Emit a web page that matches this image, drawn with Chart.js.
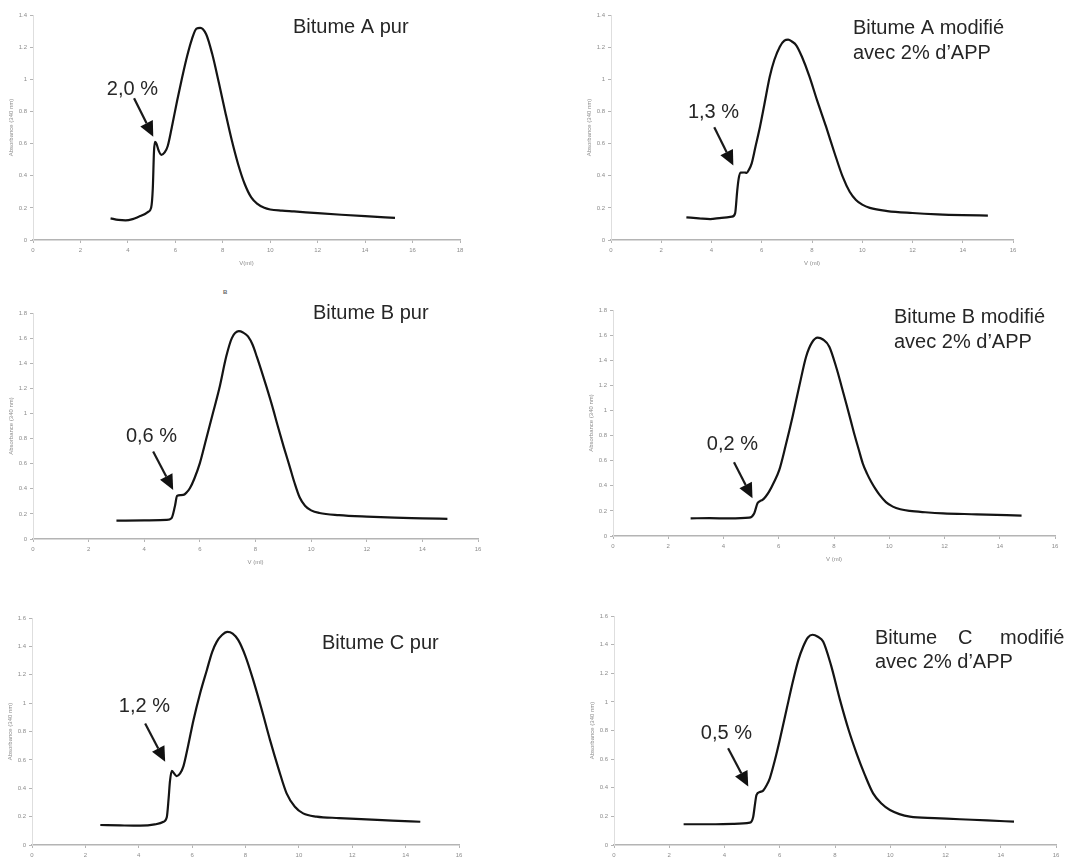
<!DOCTYPE html>
<html lang="fr">
<head>
<meta charset="utf-8">
<title>Chromatogrammes GPC des bitumes</title>
<script src="https://cdn.jsdelivr.net/npm/chart.js@4.4.1/dist/chart.umd.min.js"></script>
<style>
  html, body { margin: 0; padding: 0; background: #fff; overflow: hidden; }
  body { width: 1084px; height: 857px; position: relative; }
  canvas { position: absolute; }
  .stray { position: absolute; left: 223px; top: 289px; font: bold 6px "Liberation Sans", Arial, sans-serif; color: #6a6a6a; }
</style>
</head>
<body>
<div class="stray">B</div>
<script>
// Absorbance at 340 nm against elution volume V (ml), one pair of arrays per bitumen

const aPurV   = [3.27, 3.6, 3.9, 4.2, 4.46, 4.7, 4.86, 4.98, 5.05, 5.1, 5.14, 5.2, 5.3, 5.41, 5.55, 5.68, 5.85, 6.08, 6.3, 6.49, 6.7, 6.89, 7.05, 7.3, 7.55, 7.84, 8.1, 8.38, 8.65, 8.92, 9.2, 9.46, 9.75, 10.0, 10.5, 11.0, 12.0, 13.0, 14.0, 15.26];
const aPurAbs = [0.135, 0.125, 0.122, 0.13, 0.145, 0.16, 0.176, 0.2, 0.32, 0.55, 0.61, 0.6, 0.555, 0.53, 0.545, 0.585, 0.7, 0.87, 1.02, 1.14, 1.25, 1.315, 1.32, 1.28, 1.16, 0.975, 0.8, 0.62, 0.47, 0.35, 0.265, 0.225, 0.2, 0.19, 0.183, 0.178, 0.167, 0.157, 0.148, 0.138];

const aModV   = [3.0, 3.5, 3.95, 4.4, 4.81, 4.94, 5.02, 5.08, 5.16, 5.3, 5.4, 5.5, 5.6, 5.75, 5.93, 6.1, 6.32, 6.5, 6.72, 6.9, 7.05, 7.2, 7.38, 7.6, 7.9, 8.2, 8.56, 8.9, 9.22, 9.5, 9.75, 10.0, 10.3, 11.0, 12.0, 13.0, 14.0, 15.0];
const aModAbs = [0.141, 0.135, 0.13, 0.138, 0.145, 0.166, 0.3, 0.38, 0.419, 0.42, 0.418, 0.44, 0.477, 0.58, 0.705, 0.84, 1.017, 1.12, 1.203, 1.24, 1.247, 1.235, 1.21, 1.14, 1.017, 0.87, 0.705, 0.54, 0.394, 0.3, 0.249, 0.22, 0.2, 0.18, 0.168, 0.16, 0.155, 0.152];

const bPurV   = [3.0, 4.0, 4.8, 4.98, 5.1, 5.18, 5.3, 5.4, 5.52, 5.64, 5.8, 6.0, 6.22, 6.47, 6.7, 6.95, 7.15, 7.4, 7.55, 7.73, 7.9, 8.05, 8.22, 8.39, 8.6, 8.8, 9.02, 9.23, 9.4, 9.59, 9.78, 10.0, 10.3, 11.0, 12.0, 13.0, 14.0, 14.9];
const bPurAbs = [0.146, 0.148, 0.152, 0.165, 0.258, 0.343, 0.35, 0.351, 0.37, 0.404, 0.48, 0.604, 0.79, 1.003, 1.2, 1.455, 1.6, 1.655, 1.645, 1.614, 1.545, 1.45, 1.335, 1.215, 1.06, 0.9, 0.73, 0.577, 0.45, 0.33, 0.265, 0.228, 0.207, 0.19, 0.178, 0.17, 0.165, 0.16];

const bModV   = [2.81, 3.5, 4.2, 4.93, 5.11, 5.23, 5.32, 5.41, 5.53, 5.65, 5.83, 6.02, 6.25, 6.5, 6.75, 6.99, 7.2, 7.41, 7.6, 7.83, 8.1, 8.27, 8.44, 8.6, 8.75, 8.9, 9.04, 9.2, 9.35, 9.5, 9.65, 9.88, 10.13, 10.4, 10.74, 11.3, 11.95, 13.16, 14.79];
const bModAbs = [0.141, 0.142, 0.14, 0.146, 0.18, 0.26, 0.278, 0.287, 0.315, 0.353, 0.43, 0.526, 0.72, 0.95, 1.2, 1.428, 1.54, 1.58, 1.565, 1.508, 1.33, 1.195, 1.057, 0.925, 0.8, 0.685, 0.579, 0.495, 0.43, 0.375, 0.327, 0.27, 0.234, 0.213, 0.2, 0.189, 0.18, 0.173, 0.162];

const cPurV   = [2.56, 3.3, 4.05, 4.6, 4.93, 5.05, 5.12, 5.17, 5.24, 5.32, 5.42, 5.55, 5.67, 5.85, 6.05, 6.3, 6.55, 6.75, 6.92, 7.12, 7.32, 7.52, 7.73, 8.0, 8.29, 8.6, 8.92, 9.25, 9.54, 9.85, 10.16, 10.66, 11.5, 12.53, 13.5, 14.55];
const cPurAbs = [0.141, 0.138, 0.136, 0.145, 0.164, 0.195, 0.33, 0.45, 0.523, 0.505, 0.486, 0.505, 0.552, 0.7, 0.88, 1.07, 1.232, 1.36, 1.432, 1.48, 1.502, 1.49, 1.444, 1.33, 1.162, 0.96, 0.739, 0.53, 0.364, 0.27, 0.223, 0.2, 0.19, 0.181, 0.172, 0.164];

const cModV   = [2.52, 3.5, 4.3, 4.92, 5.04, 5.1, 5.16, 5.28, 5.4, 5.52, 5.64, 5.82, 6.0, 6.25, 6.49, 6.67, 6.85, 7.02, 7.19, 7.38, 7.57, 7.85, 8.18, 8.5, 8.78, 9.08, 9.38, 9.68, 9.99, 10.71, 11.6, 12.52, 13.5, 14.48];
const cModAbs = [0.145, 0.145, 0.148, 0.156, 0.198, 0.28, 0.35, 0.37, 0.38, 0.415, 0.466, 0.59, 0.734, 0.95, 1.154, 1.29, 1.387, 1.45, 1.469, 1.455, 1.422, 1.26, 1.014, 0.8, 0.641, 0.49, 0.361, 0.29, 0.245, 0.198, 0.188, 0.18, 0.172, 0.163];

// Box around each plot area and the axis extents
const PAD_TOP = 30;
const PAD_RIGHT = 30;
const Y_AXIS_W = 33;
const X_AXIS_H = 30;

const axisColor = '#b4b4b4';
const tickColor = '#8c8c8c';
const tickFont = {family: '"Liberation Sans", Arial, sans-serif', size: 6};
const labelFont = '20px "Liberation Sans", Arial, sans-serif';

const panels = [
    {
        volumes: aPurV, absorbances: aPurAbs, xMax: 18, yMax: 1.4, xTitle: 'V(ml)',
        area: {left: 33, top: 15, right: 460, bottom: 240},
        titles: [{text: 'Bitume A pur', dx: 260, dy: 12}],
        note: {text: '2,0 %', at: [4.19, 0.938], from: [4.26, 0.882], to: [5.07, 0.643]}
    },
    {
        volumes: aModV, absorbances: aModAbs, xMax: 16, yMax: 1.4, xTitle: 'V (ml)',
        area: {left: 611, top: 15, right: 1013, bottom: 240},
        titles: [{text: 'Bitume A modifié', dx: 242, dy: 13}, {text: 'avec 2% d\u2019APP', dx: 242, dy: 38}],
        note: {text: '1,3 %', at: [4.08, 0.793], from: [4.11, 0.701], to: [4.87, 0.463]}
    },
    {
        volumes: bPurV, absorbances: bPurAbs, xMax: 16, yMax: 1.8, xTitle: 'V (ml)',
        area: {left: 33, top: 313, right: 478, bottom: 539},
        titles: [{text: 'Bitume B pur', dx: 280, dy: 0}],
        note: {text: '0,6 %', at: [4.26, 0.816], from: [4.32, 0.697], to: [5.04, 0.391]}
    },
    {
        volumes: bModV, absorbances: bModAbs, xMax: 16, yMax: 1.8, xTitle: 'V (ml)',
        area: {left: 613, top: 310, right: 1055, bottom: 536},
        titles: [{text: 'Bitume B modifié', dx: 281, dy: 7}, {text: 'avec 2% d\u2019APP', dx: 281, dy: 32}],
        note: {text: '0,2 %', at: [4.32, 0.725], from: [4.38, 0.587], to: [5.05, 0.3]}
    },
    {
        volumes: cPurV, absorbances: cPurAbs, xMax: 16, yMax: 1.6, xTitle: 'V (ml)',
        area: {left: 32, top: 618, right: 459, bottom: 845},
        titles: [{text: 'Bitume C pur', dx: 290, dy: 25}],
        note: {text: '1,2 %', at: [4.21, 0.974], from: [4.24, 0.857], to: [4.99, 0.587]}
    },
    {
        volumes: cModV, absorbances: cModAbs, xMax: 16, yMax: 1.6, xTitle: 'V (ml)',
        area: {left: 614, top: 616, right: 1056, bottom: 845},
        // first line is justified, so each word gets its own slot
        titles: [
            {text: 'Bitume', dx: 261, dy: 22}, {text: 'C', dx: 344, dy: 22}, {text: 'modifié', dx: 386, dy: 22},
            {text: 'avec 2% d\u2019APP', dx: 261, dy: 46}
        ],
        note: {text: '0,5 %', at: [4.07, 0.776], from: [4.13, 0.676], to: [4.86, 0.408]}
    }
];

// Draws the panel caption plus the percentage label and its arrow
const peakNotePlugin = {
    id: 'peakNote',
    afterDatasetsDraw(chart, args, opts) {
        const {ctx, chartArea, scales: {x, y}} = chart;
        ctx.save();
        ctx.fillStyle = '#262626';
        ctx.strokeStyle = '#1a1a1a';
        ctx.font = labelFont;
        ctx.textBaseline = 'middle';

        ctx.textAlign = 'left';
        for (const t of opts.titles) {
            ctx.fillText(t.text, chartArea.left + t.dx, chartArea.top + t.dy);
        }

        const note = opts.note;
        ctx.textAlign = 'center';
        ctx.fillText(note.text, x.getPixelForValue(note.at[0]), y.getPixelForValue(note.at[1]));

        const sx = x.getPixelForValue(note.from[0]), sy = y.getPixelForValue(note.from[1]);
        const tx = x.getPixelForValue(note.to[0]), ty = y.getPixelForValue(note.to[1]);
        const ang = Math.atan2(ty - sy, tx - sx);
        const headLen = 15, headHalf = 7;
        const bx = tx - headLen * Math.cos(ang), by = ty - headLen * Math.sin(ang);

        ctx.lineWidth = 2.2;
        ctx.beginPath();
        ctx.moveTo(sx, sy);
        ctx.lineTo(bx, by);
        ctx.stroke();

        ctx.fillStyle = '#111';
        ctx.beginPath();
        ctx.moveTo(tx, ty);
        ctx.lineTo(bx + headHalf * Math.sin(ang), by - headHalf * Math.cos(ang));
        ctx.lineTo(bx - headHalf * Math.sin(ang), by + headHalf * Math.cos(ang));
        ctx.closePath();
        ctx.fill();
        ctx.restore();
    }
};

const formatTick = v => String(+v.toFixed(1));

for (const p of panels) {
    const canvas = document.createElement('canvas');
    const w = Y_AXIS_W + (p.area.right - p.area.left) + PAD_RIGHT;
    const h = PAD_TOP + (p.area.bottom - p.area.top) + X_AXIS_H;
    canvas.width = w;
    canvas.height = h;
    canvas.style.width = w + 'px';
    canvas.style.height = h + 'px';
    canvas.style.left = (p.area.left - Y_AXIS_W) + 'px';
    canvas.style.top = (p.area.top - PAD_TOP) + 'px';
    document.body.appendChild(canvas);

    new Chart(canvas, {
        type: 'line',
        data: {
            datasets: [{
                data: p.volumes.map((v, i) => ({x: v, y: p.absorbances[i]})),
                borderColor: '#141414',
                borderWidth: 2.2,
                pointRadius: 0,
                cubicInterpolationMode: 'monotone',
                fill: false
            }]
        },
        options: {
            responsive: false,
            animation: false,
            events: [],
            layout: {padding: {top: PAD_TOP, right: PAD_RIGHT, left: 0, bottom: 0}},
            plugins: {
                legend: {display: false},
                tooltip: {enabled: false},
                peakNote: {titles: p.titles, note: p.note}
            },
            scales: {
                x: {
                    type: 'linear',
                    min: 0,
                    max: p.xMax,
                    afterFit: s => { s.height = X_AXIS_H; },
                    ticks: {stepSize: 2, autoSkip: false, maxRotation: 0, padding: 4, font: tickFont, color: tickColor},
                    grid: {drawOnChartArea: false, tickLength: 3, color: axisColor},
                    border: {color: axisColor, width: 1.5},
                    title: {display: true, text: p.xTitle, font: tickFont, color: tickColor, padding: {top: 0, bottom: 3}}
                },
                y: {
                    min: 0,
                    max: p.yMax,
                    afterFit: s => { s.width = Y_AXIS_W; },
                    ticks: {stepSize: 0.2, autoSkip: false, padding: 3, font: tickFont, color: tickColor, callback: formatTick},
                    grid: {drawOnChartArea: false, tickLength: 3, color: axisColor},
                    border: {color: '#dedede', width: 1},
                    title: {display: true, text: 'Absorbance (340 nm)', font: tickFont, color: tickColor, padding: {top: 8, bottom: 0}}
                }
            }
        },
        plugins: [peakNotePlugin]
    });
}
</script>
</body>
</html>
